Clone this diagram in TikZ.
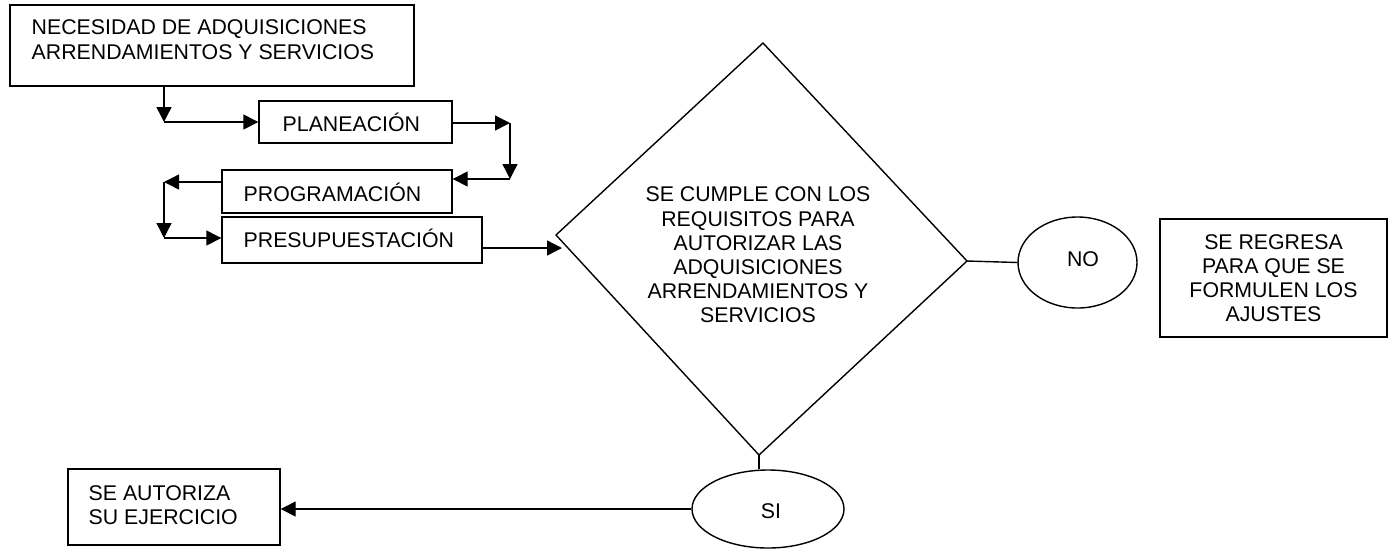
\documentclass[tikz,border=0pt]{standalone}
\usepackage{fontspec}
\setmainfont{Liberation Sans}
\usetikzlibrary{arrows.meta,shapes.geometric}
\begin{document}
\begin{tikzpicture}[x=1pt,y=-1pt,
  line width=1.4pt,
  box/.style={draw, rectangle, inner sep=0pt},
  ell/.style={draw, ellipse, inner sep=0pt},
  txt/.style={inner sep=0pt, font=\fontsize{21.3}{24.2}\selectfont},
  arr/.style={-{Triangle[length=15pt,width=15pt]}},
]
\useasboundingbox (0,0) rectangle (1388,550);

% first box
\node[box, minimum width=404pt, minimum height=81pt] (nec) at (212,45.5) {};
\node[txt, anchor=west, align=left, font=\fontsize{21.3}{25}\selectfont] (necT) at (31,40) {NECESIDAD DE ADQUISICIONES\\ARRENDAMIENTOS Y SERVICIOS};

% stage boxes
\node[box, minimum width=193pt, minimum height=42pt] (plan) at (355.5,122) {};
\node[txt, anchor=base west] (planT) at (282,131) {PLANEACIÓN};
\node[box, minimum width=230pt, minimum height=43pt] (prog) at (337,191.5) {};
\node[txt, anchor=base west] (progT) at (243,201) {PROGRAMACIÓN};
\node[box, minimum width=260pt, minimum height=46pt] (pres) at (352,240) {};
\node[txt, anchor=base west] (presT) at (243,247) {PRESUPUESTACIÓN};

% connector corners
\coordinate (c1) at (164,122);
\coordinate (c2) at (510,123);
\coordinate (c3) at (510,179);
\coordinate (c4) at (164,182);
\coordinate (c5) at (164,238);
\coordinate (dIn) at (562,248);

\draw[arr] (nec.south -| c1) -- (c1);
\draw[arr] (c1) -- (c1 -| plan.west);
\draw[arr] (plan.east |- c2) -- (c2);
\draw[arr] (c2) -- (c3);
\draw[arr] (c3) -- (c3 -| prog.east);
\draw[arr] (prog.west |- c4) -- (c4);
\draw[arr] (c4) -- (c5);
\draw[arr] (c5) -- (c5 -| pres.west);
\draw[arr] (pres.east |- dIn) -- (dIn);

% decision
\coordinate (dT) at (763,43);
\coordinate (dR) at (967,261);
\coordinate (dB) at (759,455);
\coordinate (dL) at (556,235);
\draw (dT) -- (dR) -- (dB) -- (dL) -- cycle;
\node[txt, align=center] (dq) at (758,255) {SE CUMPLE CON LOS\\REQUISITOS PARA\\AUTORIZAR LAS\\ADQUISICIONES\\ARRENDAMIENTOS Y\\SERVICIOS};

% NO branch
\node[ell, minimum width=119pt, minimum height=91pt] (no) at (1077.5,262.5) {};
\node[txt] (noT) at (1083,259) {NO};
\draw (dR) -- (no.west);
\node[box, txt, align=center, minimum width=227pt, minimum height=118pt] (reg) at (1273.5,278) {SE REGRESA\\PARA QUE SE\\FORMULEN LOS\\AJUSTES};

% SI branch
\node[ell, minimum width=152pt, minimum height=78pt] (si) at (768,509) {};
\node[txt] (siT) at (771,511) {SI};
\draw (dB) -- (dB |- si.north);
\node[box, minimum width=212pt, minimum height=76pt] (aut) at (174,507) {};
\node[txt, anchor=west, align=left] (autT) at (88,505) {SE AUTORIZA\\SU EJERCICIO};
\draw[arr] (si.west) -- (si.west -| aut.east);
\end{tikzpicture}
\end{document}
